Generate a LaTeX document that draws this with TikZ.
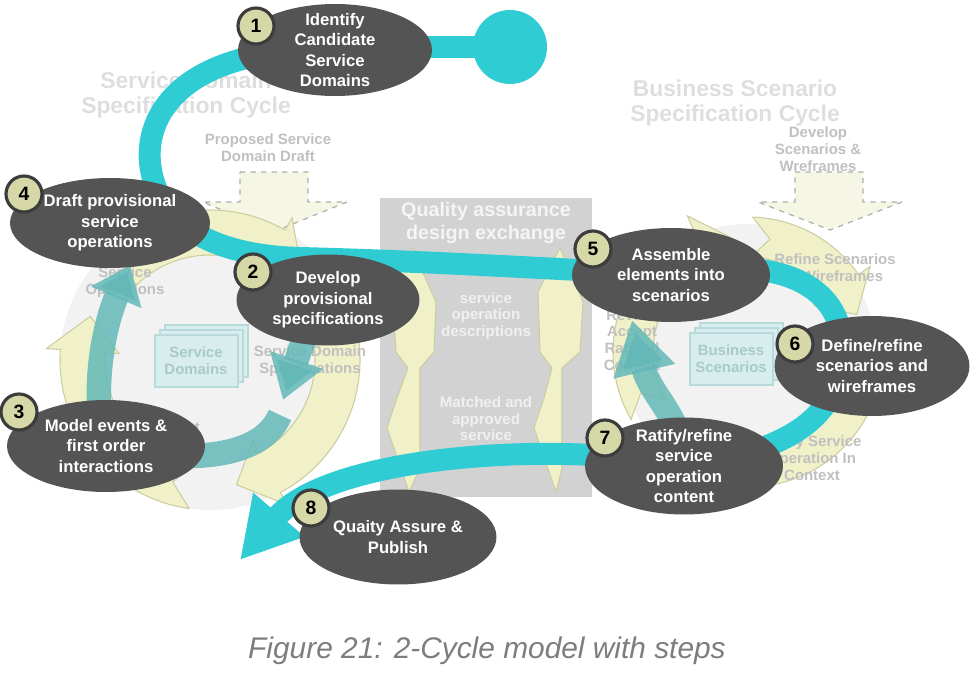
\documentclass[tikz,border=0pt]{standalone}
\usepackage{fontspec}
\setmainfont{Liberation Sans}
\usepackage{tikz}
\usetikzlibrary{arrows.meta, shapes.geometric}

\definecolor{flowteal}{RGB}{48,204,212}
\definecolor{softteal}{RGB}{100,184,184}
\definecolor{stepgrey}{RGB}{84,84,84}
\definecolor{numkhaki}{RGB}{214,216,168}
\definecolor{numrim}{RGB}{60,60,60}
\definecolor{cycleyellow}{RGB}{240,241,200}
\definecolor{cycleedge}{RGB}{205,205,160}
\definecolor{discgrey}{RGB}{242,242,242}
\definecolor{qagrey}{RGB}{210,210,210}
\definecolor{titlegrey}{RGB}{222,222,222}
\definecolor{faintgrey}{RGB}{192,192,192}
\definecolor{stackfill}{RGB}{216,238,238}
\definecolor{stackedge}{RGB}{185,218,218}
\definecolor{stacktext}{RGB}{170,202,202}
\definecolor{draftfill}{RGB}{246,246,228}
\definecolor{draftedge}{RGB}{175,175,175}
\definecolor{capgrey}{RGB}{125,125,125}

\pgfdeclarelayer{bg}
\pgfdeclarelayer{mid}
\pgfsetlayers{bg,mid,main}

\tikzset{
  stepell/.style={ellipse, fill=stepgrey, inner sep=0pt},
  steptext/.style={text=white, align=center,
    font=\fontsize{9.5}{11.6}\selectfont\bfseries},
  stepnum/.style={circle, fill=numkhaki, draw=numrim, line width=1.8pt,
    minimum size=0.72cm, inner sep=0pt, font=\fontsize{11}{11}\selectfont\bfseries},
  mainflow/.style={draw=flowteal, line width=12.5pt},
  minorflow/.style={draw=softteal, line width=14pt, draw opacity=0.85},
  cyclefill/.style={fill=cycleyellow, draw=cycleedge, line width=0.6pt},
  cycletitle/.style={text=titlegrey, align=center,
    font=\fontsize{13}{14.5}\selectfont\bfseries},
  faint/.style={text=faintgrey, align=center,
    font=\fontsize{8.5}{9.6}\selectfont\bfseries},
  qatext/.style={text=white!94!black, align=center,
    font=\fontsize{8.6}{9.4}\selectfont\bfseries},
  stackbox/.style={fill=stackfill, draw=stackedge, line width=0.6pt},
  draftbox/.style={fill=draftfill, draw=draftedge, dashed, line width=0.7pt}
}

% curved band arrow of a cycle: centre, inner r, outer r, from, to
\newcommand{\cyclearrow}[5]{%
  \begin{scope}[shift={#1}]
    \filldraw[cyclefill] ({#4}:{#3}) arc[start angle=#4, end angle=#5, radius=#3]
      -- ({#5}:{#3+14}) -- ({#5+16}:{(#2+#3)/2}) -- ({#5}:{#2-14}) -- ({#5}:{#2})
      arc[start angle=#5, end angle=#4, radius=#2]
      -- ({#4+9}:{(#2+#3)/2}) -- cycle;
  \end{scope}}

\begin{document}
\begin{tikzpicture}[x=0.02cm, y=-0.02cm]
  \useasboundingbox (0,0) rectangle (970,679);

  %--- background: cycles, drafts, exchange box ---
  \begin{pgfonlayer}{bg}
    \fill[discgrey] (210,360) circle (150);
    \fill[discgrey] (748,352) circle (128);

    \node[cycletitle] (sdtitle) at (186,95) {Service Domain\\Specification Cycle};
    \node[cycletitle] (bstitle) at (735,103) {Business Scenario\\Specification Cycle};

    \filldraw[draftbox] (240,172) -- (308,172) -- (308,202) -- (347,202)
      -- (273,232) -- (203,202) -- (240,202) -- cycle;
    \filldraw[draftbox] (795,172) -- (863,172) -- (863,202) -- (902,202)
      -- (830,230) -- (758,202) -- (795,202) -- cycle;
    \node[faint] (draftsd) at (268,148) {Proposed Service\\Domain Draft};
    \node[faint] (draftbs) at (818,149) {Develop\\Scenarios \&\\Wreframes};

    \cyclearrow{(210,360)}{105}{150}{222}{300}
    \cyclearrow{(210,360)}{105}{150}{338}{422}
    \cyclearrow{(210,360)}{105}{150}{98}{184}
    \cyclearrow{(748,352)}{95}{135}{150}{246}
    \cyclearrow{(748,352)}{95}{135}{272}{325}
    \cyclearrow{(748,352)}{95}{135}{0}{110}

    \foreach \d in {10,5,0}
      \filldraw[stackbox] (155+\d,335-\d) rectangle (238+\d,387-\d);
    \node[faint, text=stacktext] (sdstack) at (196,361) {Service\\Domains};
    \foreach \d in {10,5,0}
      \filldraw[stackbox] (690+\d,333-\d) rectangle (773+\d,385-\d);
    \node[faint, text=stacktext] (bsstack) at (731,359) {Business\\Scenarios};

    \node[faint] (sops) at (125,282) {Service\\Operations};
    \node[faint] (sdspec) at (310,361) {Service Domain\\Specifications};
    \node[faint, anchor=east] (sdtest) at (206,427) {Test};
    \node[faint] (refine) at (835,268) {Refine Scenarios\\\& Wireframes};
    \node[faint] (accept) at (632,340) {Review\\Accept\\Ratified\\Content};
    \node[faint] (ratify) at (812,458) {Ratify Service\\Operation In\\Context};

    % quality assurance exchange
    \fill[qagrey] (380,198) rectangle (592,497);
    \filldraw[cyclefill] (412,248) -- (436,302) -- (434,352) -- (420,368)
      -- (420,468) -- (409,492) -- (387,428) -- (397,398) -- (408,368)
      -- (396,352) -- (392,292) -- cycle;
    \filldraw[cyclefill] (560,248) -- (583,302) -- (580,352) -- (562,368)
      -- (562,468) -- (556,492) -- (534,428) -- (544,398) -- (552,368)
      -- (540,352) -- (538,292) -- cycle;
    \node[text=white!96!black, align=center,
      font=\fontsize{11.2}{13}\selectfont\bfseries] (qatitle) at (486,223)
      {Quality assurance\\design exchange};
    \node[qatext] (descr) at (486,316) {service\\operation\\descriptions};
    \node[qatext] (matched) at (486,419) {Matched and\\approved\\service};
  \end{pgfonlayer}

  %--- steps ---
  \node[stepell, minimum width=3.88cm, minimum height=1.84cm,
    label={[steptext]center:{Identify\\Candidate\\Service\\Domains}}] (e1) at (335,50) {};
  \node[stepell, minimum width=4.0cm, minimum height=1.8cm,
    label={[steptext]center:{Draft provisional\\service\\operations}}] (e4) at (110,223) {};
  \node[stepell, minimum width=3.66cm, minimum height=1.82cm,
    label={[steptext]center:{Develop\\provisional\\specifications}}] (e2) at (328,300) {};
  \node[stepell, minimum width=3.96cm, minimum height=1.84cm,
    label={[steptext]center:{Model events \&\\first order\\interactions}}] (e3) at (106,446) {};
  \node[stepell, minimum width=3.96cm, minimum height=1.88cm,
    label={[steptext]center:{Assemble\\elements into\\scenarios}}] (e5) at (671,275) {};
  \node[stepell, minimum width=3.9cm, minimum height=2.0cm,
    label={[steptext]center:{Define/refine\\scenarios and\\wireframes}}] (e6) at (872,366) {};
  \node[stepell, minimum width=3.96cm, minimum height=1.94cm,
    label={[steptext]center:{Ratify/refine\\service\\operation\\content}}] (e7) at (684,466) {};
  \node[stepell, minimum width=3.94cm, minimum height=1.9cm,
    label={[steptext]center:{Quaity Assure \&\\Publish}}] (e8) at (398,537) {};

  \node[stepnum] (n1) at (256,26) {1};
  \node[stepnum] (n2) at (253,272) {2};
  \node[stepnum] (n3) at (19,412) {3};
  \node[stepnum] (n4) at (24,194) {4};
  \node[stepnum] (n5) at (593,249) {5};
  \node[stepnum] (n6) at (795,344) {6};
  \node[stepnum] (n7) at (605,438) {7};
  \node[stepnum] (n8) at (311,508) {8};

  \node[circle, fill=flowteal, minimum size=1.48cm, inner sep=0pt] (start) at (510,47) {};
  \coordinate (finish) at (240,560);
  \coordinate (sdback) at (280,415);

  %--- flows under the steps ---
  \begin{pgfonlayer}{mid}
    \draw[minorflow, -{Triangle[length=20pt,width=30pt]}]
      (e3.center) .. controls (92,405) and (100,335) .. (130,265);
    \draw[minorflow, -{Triangle[length=24pt,width=30pt]}]
      (e2.center) .. controls (305,335) .. (283,400);
    \draw[minorflow] (sdback) .. controls (262,458) and (190,465) .. (e3.center);
    \draw[minorflow, -{Triangle[length=30pt,width=34pt]}]
      (e7.center) .. controls (685,420) and (650,395) .. (632,320);

    \draw[mainflow] (start.center) -- (start.center -| e1.center);
    \draw[mainflow] (e1.center) .. controls (185,46) and (138,115) .. (152,175)
      .. controls (165,232) and (225,256) .. (300,258)
      .. controls (420,261) and (540,268) .. (e5.center);
    \draw[mainflow] (e5.center) .. controls (800,250) and (845,300) .. (842,352)
      .. controls (840,410) and (800,450) .. (e7.center);
    \draw[mainflow, -{Triangle[length=34pt,width=36pt]}]
      (e7.center) .. controls (560,440) and (330,455) .. (finish);
  \end{pgfonlayer}

  \node[text=capgrey, font=\fontsize{17}{17}\selectfont\itshape] (caption)
    at (487,651) {Figure 21: 2-Cycle model with steps};
\end{tikzpicture}
\end{document}
